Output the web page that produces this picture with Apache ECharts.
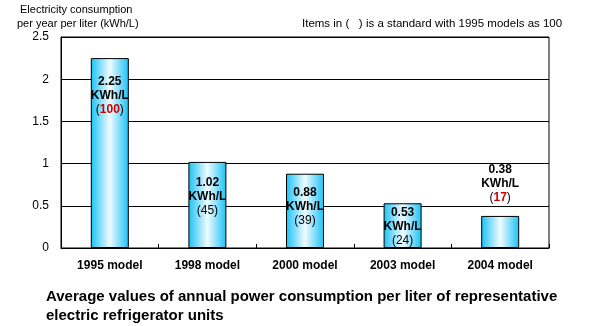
<!DOCTYPE html>
<html><head><meta charset="utf-8">
<script src="https://cdn.jsdelivr.net/npm/echarts@6/dist/echarts.min.js"></script>
<style>html,body{margin:0;padding:0;background:#fff}#c{width:600px;height:326px}</style>
</head><body><div id="c"></div>
<script>
const categories = ['1995 model', '1998 model', '2000 model', '2003 model', '2004 model'];
const values = [2.25, 1.02, 0.88, 0.53, 0.38];
const indexValues = [100, 45, 39, 24, 17];
const yTicks = [0, 0.5, 1, 1.5, 2, 2.5];

// label layout (not data)
const labelPos = ['insideTop', 'insideTop', 'insideTop', 'insideTop', 'top'];
const labelDist = [17, 14, 12, 2, 11];
const redIdx = [true, false, false, false, true];

const F = 'Liberation Sans, Arial, sans-serif';
const chart = echarts.init(document.getElementById('c'), null, {renderer: 'canvas'});
const grad = new echarts.graphic.LinearGradient(0, 0, 1, 0, [
  {offset: 0, color: '#18c2f6'},
  {offset: 0.5, color: '#f0fbff'},
  {offset: 1, color: '#18c2f6'}
]);
chart.setOption({
  animation: false,
  grid: {left: 61, right: 51, top: 37, bottom: 78, show: true, borderColor: '#000', borderWidth: 1, backgroundColor: 'transparent'},
  graphic: [
    {type: 'text', left: 20, top: 4, style: {text: 'Electricity consumption', font: '11px ' + F, fill: '#000'}},
    {type: 'text', left: 17, top: 18, style: {text: 'per year per liter (kWh/L)', font: '11px ' + F, fill: '#000'}},
    {type: 'text', left: 302, top: 18, style: {text: 'Items in (   ) is a standard with 1995 models as 100', font: '11.5px ' + F, fill: '#000'}},
    {type: 'text', left: 46, top: 287, style: {text: 'Average values of annual power consumption per liter of representative\nelectric refrigerator units', font: 'bold 15px ' + F, fill: '#000', lineHeight: 19}}
  ],
  xAxis: {
    type: 'category', data: categories,
    axisLine: {lineStyle: {color: '#000', width: 1}},
    axisTick: {show: true, inside: true, length: 4, lineStyle: {color: '#000'}},
    axisLabel: {color: '#000', fontFamily: F, fontWeight: 'bold', fontSize: 12, margin: 12}
  },
  yAxis: {
    type: 'value', min: yTicks[0], max: yTicks[yTicks.length - 1], interval: 0.5,
    axisLine: {show: true, lineStyle: {color: '#000'}},
    axisTick: {show: false},
    splitLine: {lineStyle: {color: '#000', width: 1}},
    axisLabel: {color: '#000', fontFamily: F, fontSize: 12, margin: 12}
  },
  series: [{
    type: 'bar', barWidth: 38,
    itemStyle: {color: grad, borderColor: '#000', borderWidth: 1},
    data: values.map((v, i) => ({
      value: v,
      label: {
        show: true, position: labelPos[i], distance: labelDist[i],
        formatter: () => '{b|' + v.toFixed(2) + '}\n{b|KWh/L}\n{p|(}' + (redIdx[i] ? '{r|' + indexValues[i] + '}' : '{n|' + indexValues[i] + '}') + '{p|)}',
        lineHeight: 14,
        rich: {
          b: {fontFamily: F, fontWeight: 'bold', fontSize: 12, color: '#000', lineHeight: 14},
          p: {fontFamily: F, fontSize: 12, color: '#000', lineHeight: 14},
          n: {fontFamily: F, fontSize: 12, color: '#000', lineHeight: 14},
          r: {fontFamily: F, fontWeight: 'bold', fontSize: 12, color: '#cc0000', lineHeight: 14}
        }
      }
    }))
  }]
});
</script></body></html>
